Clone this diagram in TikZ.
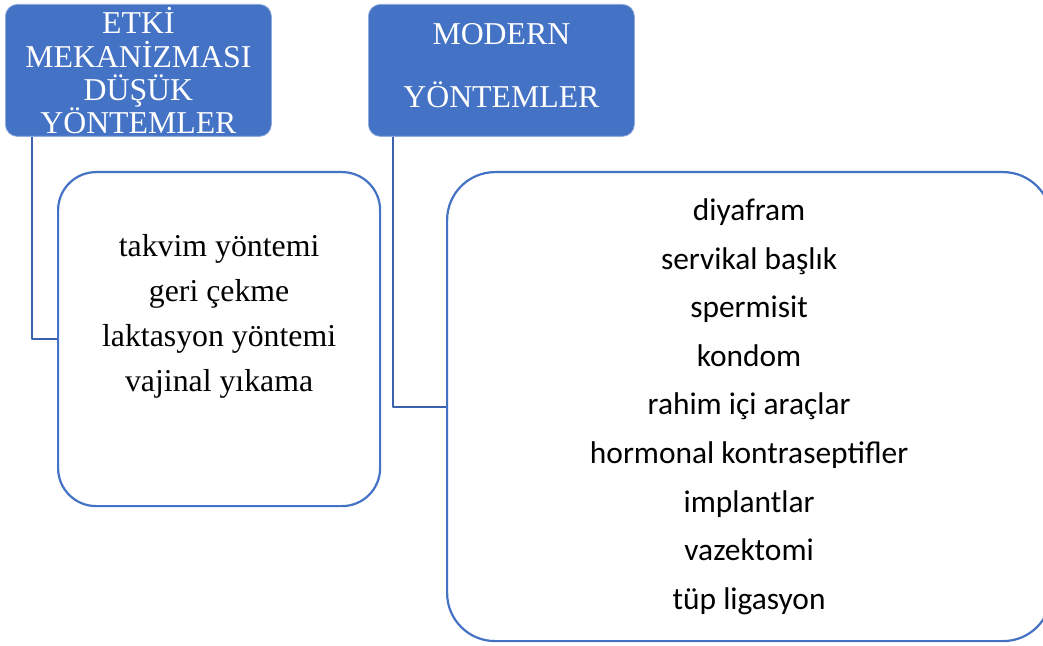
\documentclass[tikz,border=0pt]{standalone}
\usepackage{fontspec}
\setmainfont{Liberation Serif}
\newfontfamily\calibri{Carlito}
\usepackage{xcolor}
\usepackage{tikz}
\usetikzlibrary{positioning}
\definecolor{fpBlue}{HTML}{4472C4}
\definecolor{fpEdge}{HTML}{8FAADC}
\definecolor{fpLink}{HTML}{3A62AD}
\tikzset{
  fp diagram/.style={x=0.5pt, y=-0.5pt, line cap=round, line join=round},
  fp head/.style={draw=fpEdge, fill=fpBlue, line width=0.4pt, text=white,
    rounded corners=6pt, align=center, inner sep=0pt,
    minimum width=133pt, minimum height=66pt, anchor=north west},
  fp box/.style={draw=fpBlue, fill=white, line width=1.1pt, anchor=north west,
    inner sep=0pt},
  fp link/.style={draw=fpLink, line width=1pt, line cap=butt},
  fp serif/.style={font=\fontsize{15.9pt}{22.5pt}\selectfont, align=center},
  fp sans/.style={font=\calibri\fontsize{15.7pt}{24.3pt}\selectfont, align=center}
}

\begin{document}
\begin{tikzpicture}[fp diagram]
\useasboundingbox (0,0) rectangle (1043,646);
% header boxes
\node[fp head, font=\fontsize{15.9pt}{16.5pt}\selectfont] (lowhead) at (5,4)
  {\raisebox{0.8pt}{ETKİ}\\MEKANİZMASI\\DÜŞÜK\\YÖNTEMLER};
\node[fp head, font=\fontsize{15.9pt}{31.5pt}\selectfont] (modhead) at (368,4)
  {\raisebox{4.5pt}{MODERN}\\\raisebox{4.5pt}{YÖNTEMLER}};
% list boxes
\node[fp box, rounded corners=19pt, minimum width=161pt, minimum height=167pt]
  (lowbox) at (57,171) {};
\node[fp box, rounded corners=24pt, minimum width=302pt, minimum height=234.5pt]
  (modbox) at (446,171) {};
\node[fp serif] (lowlist) at ([yshift=11.5pt]lowbox.center)
  {takvim yöntemi\\geri çekme\\laktasyon yöntemi\\vajinal yıkama};
\node[fp sans] (modlist) at (modbox.center)
  {diyafram\\servikal başlık\\spermisit\\kondom\\rahim içi araçlar\\
   hormonal kontraseptifler\\implantlar\\vazektomi\\tüp ligasyon};
% connectors
\draw[fp link] ([xshift=13.5pt]lowhead.south west) |- (lowbox.west);
\draw[fp link] ([xshift=12.5pt]modhead.south west) |- (modbox.west);
\end{tikzpicture}
\end{document}
